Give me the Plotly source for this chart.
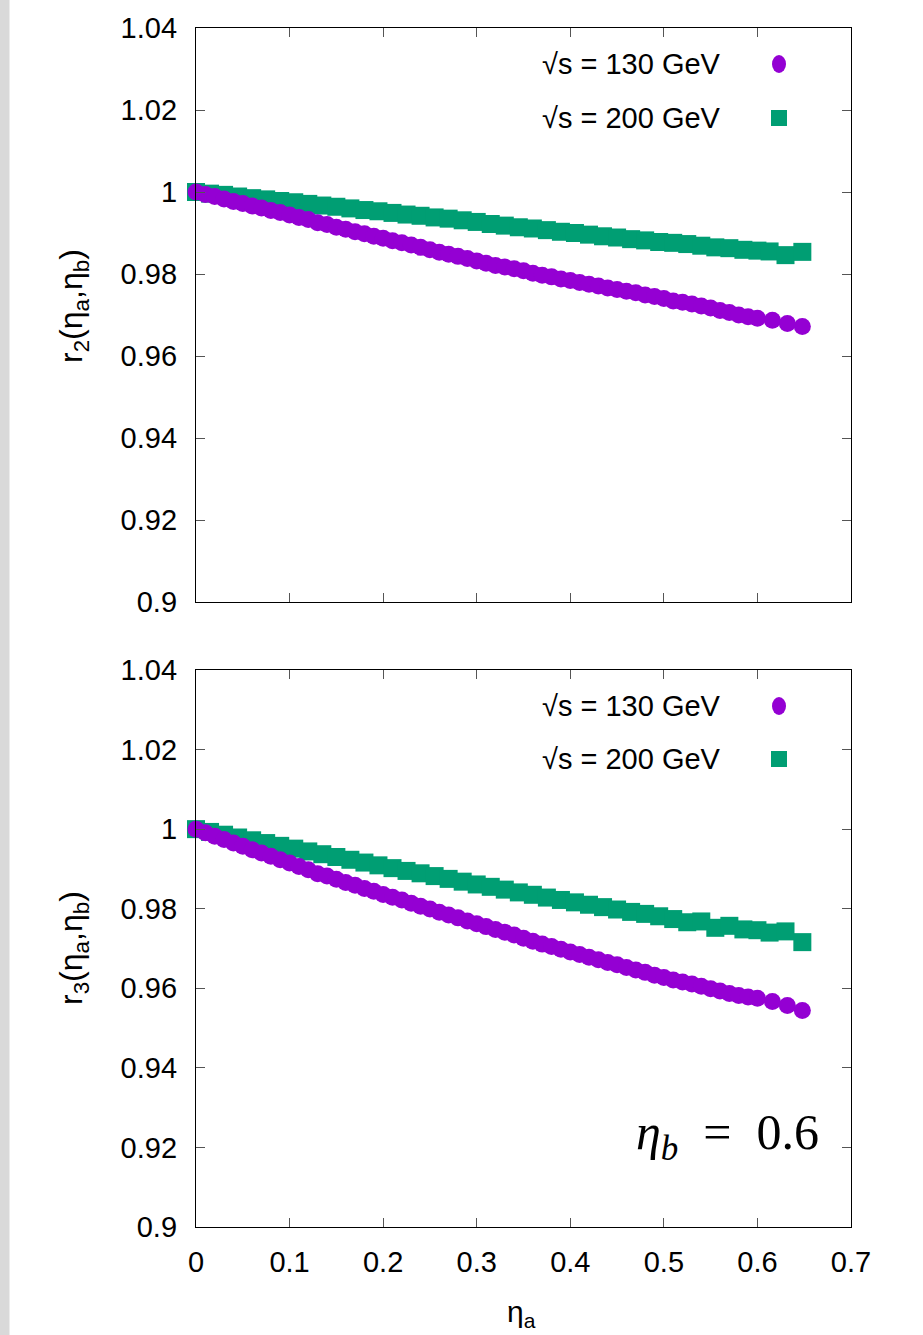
import plotly.graph_objects as go

# ---------------- data ----------------
x_130 = [0.00, 0.01, 0.02, 0.03, 0.04, 0.05, 0.06, 0.07, 0.08, 0.09,
         0.10, 0.11, 0.12, 0.13, 0.14, 0.15, 0.16, 0.17, 0.18, 0.19,
         0.20, 0.21, 0.22, 0.23, 0.24, 0.25, 0.26, 0.27, 0.28, 0.29,
         0.30, 0.31, 0.32, 0.33, 0.34, 0.35, 0.36, 0.37, 0.38, 0.39,
         0.40, 0.41, 0.42, 0.43, 0.44, 0.45, 0.46, 0.47, 0.48, 0.49,
         0.50, 0.51, 0.52, 0.53, 0.54, 0.55, 0.56, 0.57, 0.58, 0.59,
         0.60, 0.616, 0.632, 0.648]

r2_130 = [1.0000, 0.9994, 0.9989, 0.9983, 0.9977, 0.9972, 0.9966, 0.9961, 0.9955, 0.9950,
          0.9944, 0.9938, 0.9933, 0.9925, 0.9921, 0.9914, 0.9909, 0.9903, 0.9898, 0.9892,
          0.9887, 0.9881, 0.9876, 0.9871, 0.9865, 0.9859, 0.9853, 0.9848, 0.9843, 0.9838,
          0.9832, 0.9826, 0.9821, 0.9817, 0.9813, 0.9808, 0.9802, 0.9797, 0.9793, 0.9788,
          0.9784, 0.9779, 0.9775, 0.9771, 0.9766, 0.9762, 0.9758, 0.9754, 0.9749, 0.9745,
          0.9740, 0.9734, 0.9731, 0.9727, 0.9722, 0.9717, 0.9711, 0.9706, 0.9700, 0.9696,
          0.9692, 0.9687, 0.9679, 0.9672]

r3_130 = [1.0000, 0.9991, 0.9982, 0.9974, 0.9965, 0.9957, 0.9948, 0.9940, 0.9932, 0.9923,
          0.9915, 0.9906, 0.9898, 0.9888, 0.9882, 0.9874, 0.9866, 0.9859, 0.9851, 0.9844,
          0.9836, 0.9829, 0.9822, 0.9814, 0.9806, 0.9799, 0.9791, 0.9784, 0.9777, 0.9769,
          0.9762, 0.9755, 0.9748, 0.9741, 0.9734, 0.9726, 0.9718, 0.9711, 0.9705, 0.9698,
          0.9691, 0.9685, 0.9678, 0.9672, 0.9665, 0.9659, 0.9652, 0.9646, 0.9640, 0.9633,
          0.9627, 0.9621, 0.9616, 0.9611, 0.9605, 0.9599, 0.9593, 0.9587, 0.9582, 0.9578,
          0.9575, 0.9567, 0.9557, 0.9544]

x_200 = [0.000, 0.015, 0.030, 0.045, 0.060, 0.075, 0.090, 0.105, 0.120, 0.135,
         0.150, 0.165, 0.180, 0.195, 0.210, 0.225, 0.240, 0.255, 0.270, 0.285,
         0.300, 0.315, 0.330, 0.345, 0.360, 0.375, 0.390, 0.405, 0.420, 0.435,
         0.450, 0.465, 0.480, 0.495, 0.510, 0.525, 0.540, 0.555, 0.570, 0.585,
         0.600, 0.613, 0.630, 0.648]

r2_200 = [1.0000, 0.9996, 0.9993, 0.9989, 0.9985, 0.9982, 0.9978, 0.9975, 0.9971, 0.9967,
          0.9964, 0.9960, 0.9956, 0.9953, 0.9949, 0.9945, 0.9942, 0.9938, 0.9935, 0.9931,
          0.9927, 0.9922, 0.9918, 0.9914, 0.9911, 0.9907, 0.9903, 0.9900, 0.9896, 0.9892,
          0.9889, 0.9885, 0.9882, 0.9878, 0.9876, 0.9873, 0.9869, 0.9865, 0.9863, 0.9859,
          0.9857, 0.9855, 0.9846, 0.9854]

r3_200 = [1.0000, 0.9993, 0.9986, 0.9979, 0.9972, 0.9965, 0.9958, 0.9951, 0.9944, 0.9937,
          0.9930, 0.9923, 0.9916, 0.9909, 0.9902, 0.9895, 0.9889, 0.9882, 0.9875, 0.9868,
          0.9861, 0.9855, 0.9848, 0.9841, 0.9835, 0.9828, 0.9822, 0.9816, 0.9810, 0.9804,
          0.9798, 0.9792, 0.9787, 0.9781, 0.9774, 0.9766, 0.9768, 0.9752, 0.9757, 0.9748,
          0.9746, 0.9740, 0.9743, 0.9716]

series_names = ["√s = 130 GeV", "√s = 200 GeV"]
y_tickvals = [0.9, 0.92, 0.94, 0.96, 0.98, 1.0, 1.02, 1.04]
y_ticktext = ["0.9", "0.92", "0.94", "0.96", "0.98", "1", "1.02", "1.04"]
x_tickvals = [0, 0.1, 0.2, 0.3, 0.4, 0.5, 0.6, 0.7]
x_ticktext = ["0", "0.1", "0.2", "0.3", "0.4", "0.5", "0.6", "0.7"]

PURPLE = "#9400D3"
GREEN = "#009E73"
FONT = "Liberation Sans Narrow, Liberation Sans, Arial, sans-serif"

W, H = 923, 1335
L, R, T, B = 196, 851, 28, 1227
pw, ph = R - L, B - T


def px_x(p):
    return (p - L) / pw


def px_y(p):
    return (B - p) / ph


fig = go.Figure()

for (xs, ys, col, sym, sz, xa, ya) in [
    (x_200, r2_200, GREEN, "square", 18, "x", "y"),
    (x_130, r2_130, PURPLE, "circle", 17, "x", "y"),
    (x_200, r3_200, GREEN, "square", 18, "x2", "y2"),
    (x_130, r3_130, PURPLE, "circle", 17, "x2", "y2"),
]:
    fig.add_trace(go.Scatter(
        x=xs, y=ys, mode="markers", xaxis=xa, yaxis=ya,
        marker=dict(color=col, symbol=sym, size=sz, line=dict(width=0)),
        cliponaxis=False, showlegend=False, hoverinfo="skip"))

top_dom = [px_y(602), 1.0]
bot_dom = [0.0, px_y(670)]

axis_common = dict(showline=True, linecolor="black", linewidth=1.3, mirror="ticks",
                   ticks="inside", ticklen=9, tickcolor="#555555", tickwidth=1,
                   showgrid=False, zeroline=False,
                   tickfont=dict(family=FONT, size=29, color="black"))

fig.update_layout(
    width=W, height=H,
    margin=dict(l=L, r=W - R, t=T, b=H - B, pad=0),
    paper_bgcolor="white", plot_bgcolor="white",
    showlegend=False,
    xaxis=dict(domain=[0, 1], range=[0, 0.7], anchor="y", tickvals=x_tickvals,
               showticklabels=False, **axis_common),
    yaxis=dict(domain=top_dom, range=[0.9, 1.04], anchor="x", tickvals=y_tickvals,
               ticktext=y_ticktext, ticklabelstandoff=12, **axis_common),
    xaxis2=dict(domain=[0, 1], range=[0, 0.7], anchor="y2", tickvals=x_tickvals,
                ticktext=x_ticktext, ticklabelstandoff=9, **axis_common),
    yaxis2=dict(domain=bot_dom, range=[0.9, 1.04], anchor="x2", tickvals=y_tickvals,
                ticktext=y_ticktext, ticklabelstandoff=12, **axis_common),
)

annotations = []
shapes = []

# grey strip on the left edge of the page
shapes.append(dict(type="rect", xref="paper", yref="paper",
                   x0=px_x(0), x1=px_x(9.5), y0=px_y(H), y1=px_y(0),
                   fillcolor="#d9d9d9", line=dict(width=0), layer="below"))

# legend entries (text right-aligned, marker to the right)
for (ty, sy) in [(64, 118), (706, 759)]:
    for name, yy, col, kind in [(series_names[0], ty, PURPLE, "circle"),
                                (series_names[1], sy, GREEN, "rect")]:
        annotations.append(dict(xref="paper", yref="paper", x=px_x(723), y=px_y(yy),
                                xanchor="right", yanchor="middle", showarrow=False,
                                text=name, font=dict(family=FONT, size=29, color="black")))
        if kind == "circle":
            shapes.append(dict(type="circle", xref="paper", yref="paper",
                               x0=px_x(772), x1=px_x(786), y0=px_y(yy + 9), y1=px_y(yy - 9),
                               fillcolor=col, line=dict(width=0)))
        else:
            shapes.append(dict(type="rect", xref="paper", yref="paper",
                               x0=px_x(771), x1=px_x(787), y0=px_y(yy + 8), y1=px_y(yy - 8),
                               fillcolor=col, line=dict(width=0)))

# y-axis titles
for sub, yc in [("2", 306), ("3", 948)]:
    annotations.append(dict(xref="paper", yref="paper", x=px_x(73), y=px_y(yc),
                            xanchor="center", yanchor="middle", showarrow=False, textangle=-90,
                            text=f"r<sub>{sub}</sub>(η<sub>a</sub>,η<sub>b</sub>)",
                            font=dict(family=FONT, size=32, color="black")))

# x-axis title
annotations.append(dict(xref="paper", yref="paper", x=px_x(521), y=px_y(1313),
                        xanchor="center", yanchor="middle", showarrow=False,
                        text="η<sub>a</sub>", font=dict(family=FONT, size=30, color="black")))

# eta_b label
annotations.append(dict(xref="paper", yref="paper", x=px_x(821), y=px_y(1136),
                        xanchor="right", yanchor="middle", showarrow=False,
                        text="<i>η</i><sub><i>b</i></sub>&nbsp;&nbsp;=&nbsp;&nbsp;0.6",
                        font=dict(family="Liberation Serif, DejaVu Serif, serif", size=50,
                                  color="black")))

fig.update_layout(annotations=annotations, shapes=shapes)

fig.write_html("out.html", config={"displayModeBar": False},
               post_script="document.body.style.margin='0px';")
